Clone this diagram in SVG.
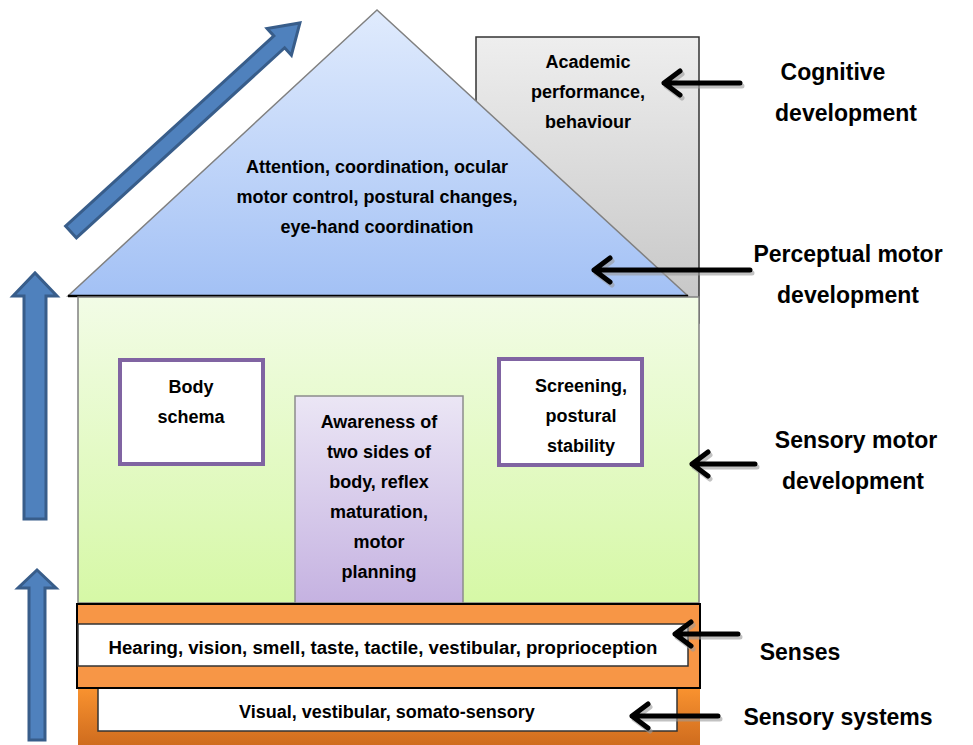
<svg xmlns="http://www.w3.org/2000/svg" width="973" height="745" viewBox="0 0 973 745">
<defs>
<linearGradient id="gRoof" x1="0" y1="0" x2="0" y2="1"><stop offset="0" stop-color="#e0ebfd"/><stop offset="1" stop-color="#a3c1f5"/></linearGradient>
<linearGradient id="gBody" x1="0" y1="0" x2="0" y2="1"><stop offset="0" stop-color="#f2fce6"/><stop offset="1" stop-color="#d6f8a6"/></linearGradient>
<linearGradient id="gChim" x1="0" y1="0" x2="0" y2="1"><stop offset="0" stop-color="#eeeeee"/><stop offset="1" stop-color="#c4c4c4"/></linearGradient>
<linearGradient id="gPurp" x1="0" y1="0" x2="0" y2="1"><stop offset="0" stop-color="#ebe6f5"/><stop offset="1" stop-color="#c5b2e1"/></linearGradient>
<linearGradient id="gOr" x1="0" y1="0" x2="0" y2="1"><stop offset="0" stop-color="#fb9430"/><stop offset="1" stop-color="#cf6c1e"/></linearGradient>
<style>
text{font-family:"Liberation Sans",Arial,sans-serif;font-weight:bold;fill:#000;text-anchor:middle}
.big{font-size:23px}
.mid{font-size:18px}
.sm{font-size:18px}
.box{fill:#fff;stroke:#8064a2;stroke-width:4}
.arr{fill:#4f81bd;stroke:#385d8a;stroke-width:3;stroke-linejoin:miter}
.pt{fill:none;stroke:#000;stroke-width:5;stroke-linecap:round;stroke-linejoin:round}
.sh{fill:none;stroke:#999;stroke-width:5;stroke-linecap:round;stroke-linejoin:round;opacity:0.6}
</style>
</defs>
<rect width="973" height="745" fill="#fff"/>

<g id="chimney">
<rect x="476" y="37" width="223" height="286" fill="url(#gChim)" stroke="#333" stroke-width="1.5"/>
<text class="mid" x="588" y="68">Academic</text>
<text class="mid" x="588" y="98">performance,</text>
<text class="mid" x="588" y="128">behaviour</text>
</g>

<g id="roof">
<polygon points="377,10 68,296 688,296" fill="url(#gRoof)" stroke="#808080" stroke-width="1.5"/>
<line x1="68" y1="296" x2="688" y2="296" stroke="#000" stroke-width="2.5"/>
<text class="mid" x="377" y="173">Attention, coordination, ocular</text>
<text class="mid" x="377" y="203">motor control, postural changes,</text>
<text class="mid" x="377" y="233">eye-hand coordination</text>
</g>

<g id="house-body">
<rect x="78" y="297" width="621" height="306" fill="url(#gBody)" stroke="#808080" stroke-width="1.5"/>
</g>

<g id="body-schema">
<rect class="box" x="120" y="360" width="143" height="104"/>
<text class="mid" x="191" y="393">Body</text>
<text class="mid" x="191" y="423">schema</text>
</g>

<g id="screening">
<rect class="box" x="499" y="359" width="143" height="106"/>
<text class="mid" x="581" y="392">Screening,</text>
<text class="mid" x="581" y="422">postural</text>
<text class="mid" x="581" y="452">stability</text>
</g>

<g id="awareness">
<rect x="295" y="396" width="168" height="207" fill="url(#gPurp)" stroke="#8c8c8c" stroke-width="1.5"/>
<text class="mid" x="379" y="428">Awareness of</text>
<text class="mid" x="379" y="458">two sides of</text>
<text class="mid" x="379" y="488">body, reflex</text>
<text class="mid" x="379" y="518">maturation,</text>
<text class="mid" x="379" y="548">motor</text>
<text class="mid" x="379" y="578">planning</text>
</g>

<g id="sensory-systems">
<rect x="78" y="686" width="622" height="59" fill="url(#gOr)"/>
<rect x="98" y="688" width="579" height="43" fill="#fff" stroke="#333" stroke-width="1.5"/>
<text class="sm" x="387" y="718">Visual, vestibular, somato-sensory</text>
</g>

<g id="senses">
<rect x="77" y="604" width="623" height="84" fill="#f79646" stroke="#000" stroke-width="2"/>
<rect x="78" y="624" width="610" height="42" fill="#fff" stroke="#333" stroke-width="1.5"/>
<text class="sm" x="383" y="654" textLength="549" lengthAdjust="spacingAndGlyphs">Hearing, vision, smell, taste, tactile, vestibular, proprioception</text>
</g>

<g id="labels">
<text class="big" x="833" y="80">Cognitive</text>
<text class="big" x="846" y="121">development</text>
<text class="big" x="848" y="262">Perceptual motor</text>
<text class="big" x="848" y="303">development</text>
<text class="big" x="856" y="448">Sensory motor</text>
<text class="big" x="853" y="489">development</text>
<text class="big" x="800" y="660">Senses</text>
<text class="big" x="838" y="725">Sensory systems</text>
</g>

<g id="connectors">
<g transform="translate(2,3)">
<path class="sh" d="M740,83 L664,83 M680,71 L664,83 L680,95"/>
<path class="sh" d="M750,270 L594,270 M610,258 L594,270 L610,282"/>
<path class="sh" d="M755,464 L692,464 M708,452 L692,464 L708,476"/>
<path class="sh" d="M738,634 L675,634 M691,622 L675,634 L691,646"/>
<path class="sh" d="M718,716 L632,716 M648,704 L632,716 L648,728"/>
</g>
<path class="pt" d="M740,83 L664,83 M680,71 L664,83 L680,95"/>
<path class="pt" d="M750,270 L594,270 M610,258 L594,270 L610,282"/>
<path class="pt" d="M755,464 L692,464 M708,452 L692,464 L708,476"/>
<path class="pt" d="M738,634 L675,634 M691,622 L675,634 L691,646"/>
<path class="pt" d="M718,716 L632,716 M648,704 L632,716 L648,728"/>

<polygon class="arr" points="24,519 46,519 46,296 57,296 35,273 13,296 24,296"/>
<polygon class="arr" points="29,740 45,740 45,588 56,588 37,570 18,588 29,588"/>
<polygon class="arr" points="0,-8 282,-8 282,-18 310,0 282,18 282,8 0,8" transform="translate(71,232) rotate(-42.4)"/>
</g>
</svg>
